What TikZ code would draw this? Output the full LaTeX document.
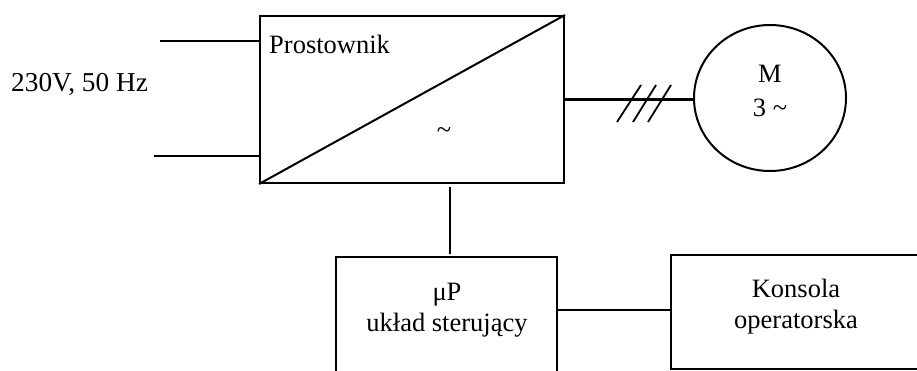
\documentclass[tikz,border=0pt]{standalone}
\usepackage{fontspec}
\setmainfont{Liberation Serif}
\usetikzlibrary{shapes.geometric}
\tikzset{
  x=1pt,y=-1pt,
  heavy/.style={draw=black,line width=2pt},
  wire/.style={draw=black,line width=2.2pt},
  thinwire/.style={draw=black,line width=1.5pt},
  lbl/.style={font=\fontsize{26.5}{31}\selectfont,align=center,inner sep=0pt,text=black},
}
\begin{document}
\begin{tikzpicture}
\useasboundingbox (0,0) rectangle (917,370);
\node[heavy,rectangle,minimum width=304pt,minimum height=167pt,inner sep=0pt] (conv) at (412,99.5) {};
\draw[heavy] (conv.south west) -- (conv.north east);
\node[heavy,ellipse,minimum width=152pt,minimum height=146pt,inner sep=0pt] (motor) at (770,98) {};
\coordinate (inA) at (160,41);
\coordinate (inB) at (154,156);
\draw[wire] (inA) -- (inA -| conv.west);
\draw[wire] (inB) -- (inB -| conv.west);
\draw[wire] (conv.east) -- (conv.east -| motor.west);
\coordinate (s1a) at (617,122); \coordinate (s1b) at (641,85);
\coordinate (s2a) at (633,122); \coordinate (s2b) at (656,85);
\coordinate (s3a) at (648,122); \coordinate (s3b) at (671,85);
\draw[thinwire,line width=1.8pt] (s1a) -- (s1b);
\draw[thinwire,line width=1.8pt] (s2a) -- (s2b);
\draw[thinwire,line width=1.8pt] (s3a) -- (s3b);
\begin{scope}
\clip (0,0) rectangle (917,370);
\node[heavy,rectangle,minimum width=221pt,minimum height=130pt,inner sep=0pt] (up) at (446.5,322) {};
\node[thinwire,line width=1.6pt,rectangle,minimum width=250pt,minimum height=114pt,inner sep=0pt] (kons) at (796,312) {};
\end{scope}
\coordinate (upT) at (450,254);
\coordinate (convB) at (450,187);
\draw[thinwire] (convB) -- (upT);
\coordinate (upR) at (557,310);
\draw[thinwire] (upR) -- (upR -| kons.west);
\node[lbl,anchor=base west,font=\fontsize{27.3}{31}\selectfont] (t230) at (11,91) {230V, 50 Hz};
\node[lbl,anchor=base west] (tpros) at (269,53) {Prostownik};
\node[lbl] (ttil) at (444,133) {\textasciitilde};
\node[lbl,font=\fontsize{26.5}{34}\selectfont] (tm) at (770,90.5) {M\\3 \textasciitilde};
\node[lbl] (tup) at (447,310.5) {μP\\układ sterujący};
\node[lbl] (tkon) at (796,306.5) {Konsola\\operatorska};
\end{tikzpicture}
\end{document}
